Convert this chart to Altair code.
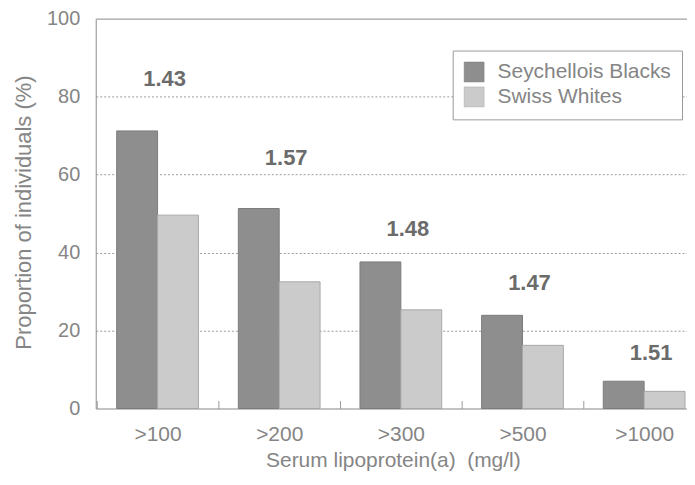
import altair as alt
import pandas as pd

categories = [">100", ">200", ">300", ">500", ">1000"]
series_names = ["Seychellois Blacks", "Swiss Whites"]
seychellois_blacks = [71.2, 51.3, 37.6, 23.9, 7.0]
swiss_whites = [49.6, 32.5, 25.3, 16.2, 4.4]
ratios = ["1.43", "1.57", "1.48", "1.47", "1.51"]
ratio_label_height = [84.6, 64.3, 46.1, 32.2, 14.2]

rows = []
for c, a, b in zip(categories, seychellois_blacks, swiss_whites):
    rows.append({"cat": c, "series": series_names[0], "value": a})
    rows.append({"cat": c, "series": series_names[1], "value": b})
bars_df = pd.DataFrame(rows)
labels_df = pd.DataFrame({"cat": categories, "ratio": ratios, "value": ratio_label_height})

FONT = "Liberation Sans"
TXT = "#858585"
LINE = "#9a9a9a"

x_scale = alt.Scale(domain=categories, paddingInner=0.328, paddingOuter=0.0943, align=0.913)
y_scale = alt.Scale(domain=[0, 100])

x_axis = alt.Axis(
    title="Serum lipoprotein(a) \u00a0(mg/l)", labelAngle=0, domain=False,
    ticks=True, bandPosition=0, tickOffset=-20, tickExtra=False,
    tickSize=8, tickColor=LINE, offset=-8, labelOffset=20,
    labelPadding=32, labelBaseline="alphabetic", labelFontSize=21,
    labelColor=TXT, labelFont=FONT, titleFont=FONT, titleFontSize=21,
    titleColor=TXT, titleFontWeight="normal", titleBaseline="alphabetic",
    titleY=66, titleX=298, titleAlign="center", grid=False,
)

y_axis = alt.Axis(
    title="Proportion of individuals (%)", values=[0, 20, 40, 60, 80, 100],
    ticks=False, labelPadding=16, labelFontSize=20, labelColor=TXT,
    labelFont=FONT, domain=True, domainColor=LINE, grid=True,
    gridColor=LINE,
    gridDash=alt.condition("datum.value == 0 || datum.value == 100",
                           alt.value([]), alt.value([2, 2])),
    titleFont=FONT, titleFontSize=22, titleColor=TXT, titleFontWeight="normal",
    titleX=-65.5, titleY=194, titleAlign="center", titleBaseline="alphabetic",
)

bars = alt.Chart(bars_df).mark_bar(strokeWidth=1).encode(
    x=alt.X("cat:N", scale=x_scale, axis=x_axis, sort=categories),
    xOffset=alt.XOffset("series:N", sort=series_names,
                        scale=alt.Scale(domain=series_names, paddingInner=0, paddingOuter=0)),
    y=alt.Y("value:Q", scale=y_scale, axis=y_axis),
    color=alt.Color(
        "series:N",
        scale=alt.Scale(domain=series_names, range=["#8e8e8e", "#cbcbcb"]),
        legend=alt.Legend(
            title=None, orient="none", legendX=358, legendY=32,
            symbolType="square", symbolSize=400, labelFontSize=21,
            labelColor=TXT, labelFont=FONT, labelOffset=13, rowPadding=2,
            labelLimit=400,
            padding=11, strokeColor=LINE, fillColor="white",
            symbolStrokeColor="#888888", symbolStrokeWidth=0.5,
        ),
    ),
    stroke=alt.Stroke(
        "series:N",
        scale=alt.Scale(domain=series_names, range=["#7c7c7c", "#a8a8a8"]),
        legend=None,
    ),
)

txt = alt.Chart(labels_df).mark_text(
    font=FONT, fontSize=22, fontWeight="bold", color="#6b6b6b", dx=7, baseline="middle"
).encode(
    x=alt.X("cat:N", scale=x_scale, sort=categories),
    y=alt.Y("value:Q", scale=y_scale),
    text="ratio:N",
)

chart = alt.layer(bars, txt).properties(
    width=593, height=391,
    padding={"left": 4, "top": 0, "right": 0, "bottom": 0},
    background="white",
).configure_view(strokeWidth=0).configure(font=FONT)

chart.save("out.html", embed_options={"renderer": "svg", "actions": False})
